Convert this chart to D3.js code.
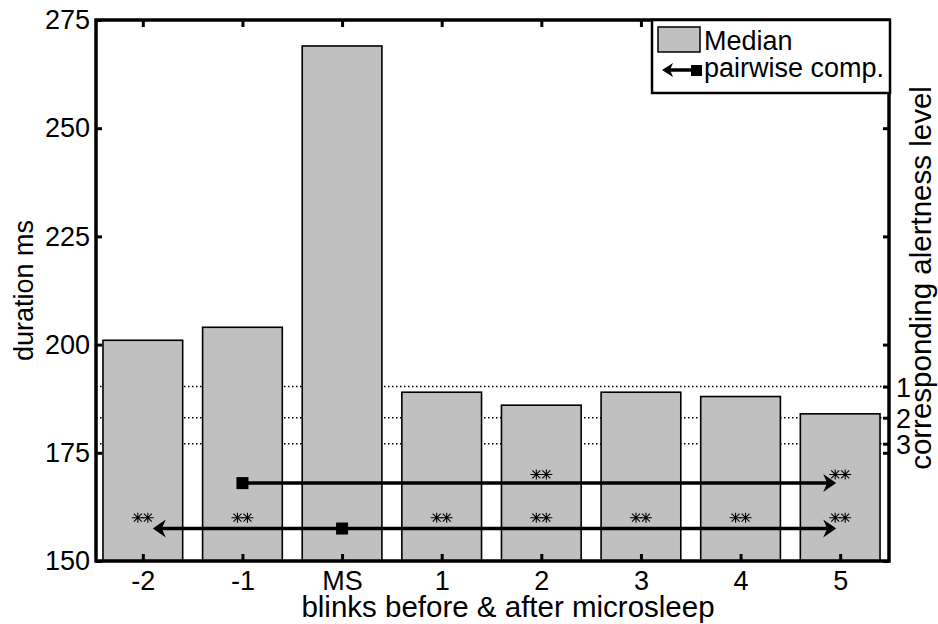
<!DOCTYPE html>
<meta charset="utf-8">
<head>
    <meta charset="utf-8">
    <title>Blink duration around microsleep</title>
    <script src="https://d3js.org/d3.v7.min.js"></script>
    <style>
        body { margin: 0; background: #fff; }
        svg text { font-family: 'Liberation Sans', Arial, sans-serif; fill: #000; }
    </style>
</head>
<body>
<div id="my_dataviz"></div>
<script>
    // Data
    var categories = ["-2", "-1", "MS", "1", "2", "3", "4", "5"];
    var medians = [201, 204, 269, 189, 186, 189, 188, 184];
    var yTicks = [150, 175, 200, 225, 250, 275];

    // alertness levels on the right axis
    var levelValues = [190.3, 183.1, 177.1];
    var levelLabels = ["1", "2", "3"];

    // pairwise comparisons (positions in category index units)
    var compStart = [1, 2];          // square marker
    var compLeft = [null, 0.1];      // left arrow tip
    var compRight = [6.96, 6.96];    // right arrow tip
    var compY = [168, 157.5];

    // significance stars
    var starsUpper = ["2", "5"];
    var starsUpperY = 170;
    var starsLower = ["-2", "-1", "1", "2", "3", "4", "5"];
    var starsLowerY = 160;

    var W = 938, H = 624;
    // plot box (note: "top" is reserved on window, so use other names)
    var pl = 96, pr = 889, pt = 20, pb = 561;

    var svg = d3.select("#my_dataviz")
        .append("svg")
        .attr("width", W)
        .attr("height", H);

    var x = d3.scaleLinear().domain([-0.47, 7.49]).range([pl, pr]);
    var y = d3.scaleLinear().domain([150, 275]).range([pb, pt]);
    var idx = function(c) { return categories.indexOf(c); };

    // dotted alertness level lines (behind bars)
    svg.selectAll(".level")
        .data(levelValues)
        .enter().append("line")
        .attr("x1", pl).attr("x2", pr)
        .attr("y1", d => y(d)).attr("y2", d => y(d))
        .attr("stroke", "#000")
        .attr("stroke-width", 1.5)
        .attr("stroke-dasharray", "1.5,2.5");

    // bars
    svg.selectAll(".bar")
        .data(medians)
        .enter().append("rect")
        .attr("x", (d, i) => x(i - 0.4))
        .attr("width", (d, i) => x(i + 0.4) - x(i - 0.4))
        .attr("y", d => y(d))
        .attr("height", d => y(150) - y(d))
        .attr("fill", "#c0c0c0")
        .attr("stroke", "#000")
        .attr("stroke-width", 1.6);

    // arrowhead path pointing right, tip at origin
    var head = "M0,0L-13,-9L-9,0L-13,9Z";

    // comparison arrows
    compY.forEach(function(v, k) {
        var yy = y(v);
        var x0 = compLeft[k] === null ? x(compStart[k]) : x(compLeft[k]) + 8;
        svg.append("line")
            .attr("x1", x0).attr("x2", x(compRight[k]) - 8)
            .attr("y1", yy).attr("y2", yy)
            .attr("stroke", "#000").attr("stroke-width", 3.5);
        svg.append("path")
            .attr("d", head)
            .attr("transform", "translate(" + x(compRight[k]) + "," + yy + ")");
        if (compLeft[k] !== null) {
            svg.append("path")
                .attr("d", head)
                .attr("transform", "translate(" + x(compLeft[k]) + "," + yy + ") rotate(180)");
        }
        svg.append("rect")
            .attr("x", x(compStart[k]) - 6).attr("y", yy - 6)
            .attr("width", 12).attr("height", 12)
            .attr("fill", "#000");
    });

    // asterisk marker (MATLAB '*')
    var star = "M-6,0H6M0,-5V5M-4,-4L4,4M-4,4L4,-4";
    function drawStars(list, v) {
        list.forEach(function(c) {
            [-5, 5].forEach(function(off) {
                svg.append("path")
                    .attr("d", star)
                    .attr("transform", "translate(" + (x(idx(c)) + off) + "," + y(v) + ")")
                    .attr("stroke", "#000")
                    .attr("stroke-width", 1.1)
                    .attr("fill", "none");
            });
        });
    }
    drawStars(starsUpper, starsUpperY);
    drawStars(starsLower, starsLowerY);

    // axes with inward ticks
    var fs = "27px", fsLabel = "29.5px";
    var gl = svg.append("g").attr("transform", "translate(" + pl + ",0)")
        .call(d3.axisLeft(y).tickValues(yTicks).tickSize(-6).tickPadding(6).tickFormat(d3.format("d")));
    var gr = svg.append("g").attr("transform", "translate(" + pr + ",0)")
        .call(d3.axisRight(y).tickValues(yTicks).tickSize(-6).tickFormat(""));
    var glv = svg.append("g").attr("transform", "translate(" + pr + ",0)")
        .call(d3.axisRight(y).tickValues(levelValues).tickSize(-6).tickPadding(7)
            .tickFormat((d, i) => levelLabels[i]));
    var gb = svg.append("g").attr("transform", "translate(0," + pb + ")")
        .call(d3.axisBottom(x).tickValues(d3.range(categories.length)).tickSize(-7).tickPadding(10)
            .tickFormat(i => categories[i]));
    var gt = svg.append("g").attr("transform", "translate(0," + pt + ")")
        .call(d3.axisTop(x).tickValues(d3.range(categories.length)).tickSize(-7).tickFormat(""));

    [gl, gr, glv, gb, gt].forEach(function(g) {
        g.select(".domain").remove();
        g.selectAll(".tick line").attr("stroke", "#000").attr("stroke-width", 3);
        g.selectAll("text").style("font-size", fs).attr("fill", "#000");
    });
    gb.selectAll("text").attr("dy", "0.71em");
    glv.selectAll("text").attr("dy", "0.35em");

    // frame
    svg.append("rect")
        .attr("x", pl).attr("y", pt)
        .attr("width", pr - pl).attr("height", pb - pt)
        .attr("fill", "none").attr("stroke", "#000").attr("stroke-width", 3.5);

    // axis labels
    svg.append("text")
        .attr("transform", "translate(33," + ((pt + pb) / 2) + ") rotate(-90)")
        .attr("text-anchor", "middle")
        .style("font-size", fs)
        .text("duration ms");
    svg.append("text")
        .attr("transform", "translate(931,278) rotate(-90)")
        .attr("text-anchor", "middle")
        .style("font-size", fsLabel)
        .text("corresponding alertness level");
    svg.append("text")
        .attr("x", 508).attr("y", 617)
        .attr("text-anchor", "middle")
        .style("font-size", fsLabel)
        .text("blinks before & after microsleep");

    // legend
    var lg = svg.append("g");
    lg.append("rect")
        .attr("x", 652).attr("y", pt).attr("width", pr + 1 - 652).attr("height", 73)
        .attr("fill", "#fff").attr("stroke", "#000").attr("stroke-width", 2.5);
    lg.append("rect")
        .attr("x", 658).attr("y", 27).attr("width", 42).attr("height", 25)
        .attr("fill", "#c0c0c0").attr("stroke", "#000").attr("stroke-width", 1.5);
    lg.append("text").attr("x", 704).attr("y", 50).style("font-size", fs).text("Median");
    lg.append("line").attr("x1", 668).attr("x2", 696).attr("y1", 70).attr("y2", 70)
        .attr("stroke", "#000").attr("stroke-width", 3.5);
    lg.append("path").attr("d", "M0,0L-11,-7L-8,0L-11,7Z")
        .attr("transform", "translate(662,70) rotate(180)");
    lg.append("rect").attr("x", 691).attr("y", 65).attr("width", 11).attr("height", 11).attr("fill", "#000");
    lg.append("text").attr("x", 704).attr("y", 77).style("font-size", fs).text("pairwise comp.");
</script>
</body>
